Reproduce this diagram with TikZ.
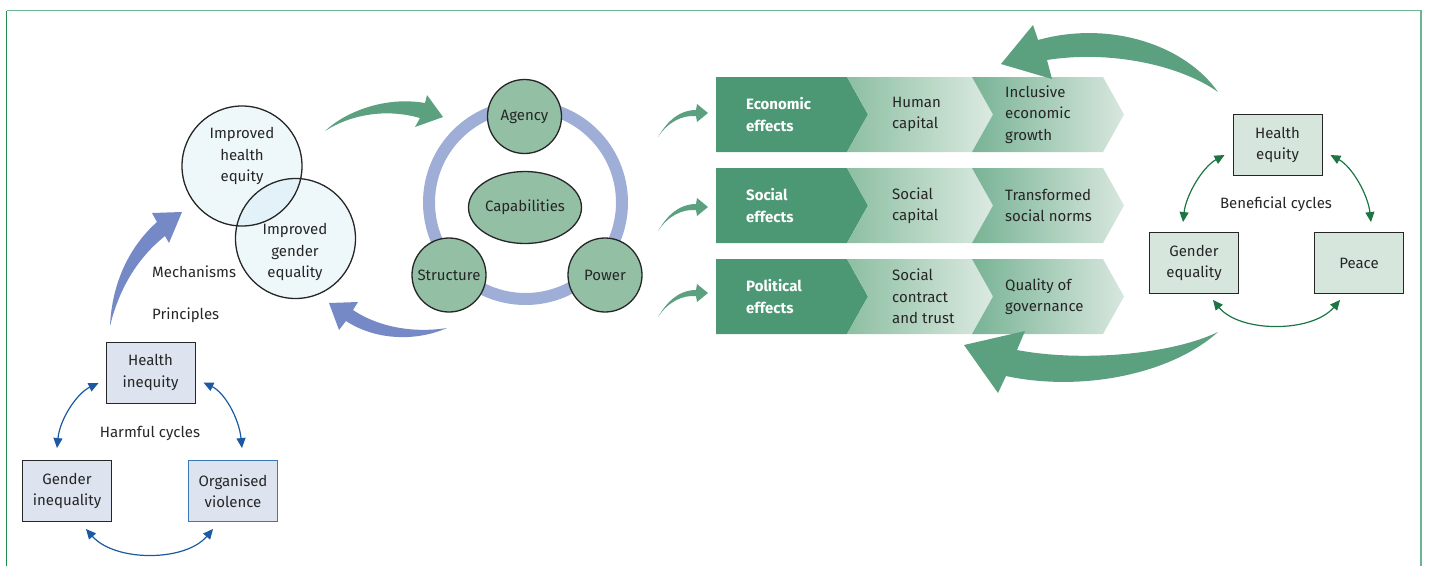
\documentclass[tikz,border=0pt]{standalone}
\usepackage{fontspec}
\setmainfont{Fira Sans}
\usetikzlibrary{arrows.meta,shapes.geometric,calc}
\definecolor{frameL}{HTML}{1F8A4C}
\definecolor{frameT}{HTML}{6DB592}
\definecolor{txt}{HTML}{262626}
\definecolor{bluebox}{HTML}{DDE3EF}
\definecolor{blueline}{HTML}{1B5AA3}
\definecolor{blueborder}{HTML}{3A78B8}
\definecolor{bigblue}{HTML}{7489C6}
\definecolor{ringcol}{HTML}{9EAED6}
\definecolor{gcircfill}{HTML}{93BFA5}
\definecolor{impfill}{HTML}{EEF8FB}
\definecolor{impover}{HTML}{E2F2F8}
\definecolor{darkchev}{HTML}{4C9874}
\definecolor{biggreen}{HTML}{5BA07F}
\definecolor{benline}{HTML}{1C7543}
\definecolor{greenbox}{HTML}{D6E6DD}
\definecolor{chevAleft}{HTML}{8DBFA2}
\definecolor{chevAright}{HTML}{DCEAE2}
\definecolor{chevBleft}{HTML}{78B395}
\definecolor{chevBright}{HTML}{D8E7DE}
\tikzset{
  every node/.style={font=\fontsize{15}{21.5}\selectfont, text=txt, align=center},
  harmbox/.style={rectangle, draw=txt, line width=0.9pt, fill=bluebox, minimum width=89pt, minimum height=61pt, inner sep=0pt},
  benbox/.style={rectangle, draw=txt, line width=0.9pt, fill=greenbox, minimum width=89pt, minimum height=61pt, inner sep=0pt},
  harmarrow/.style={draw=blueline, line width=1.2pt, {Triangle[length=10pt,width=9pt]}-{Triangle[length=10pt,width=9pt]}},
  benarrow/.style={draw=benline, line width=1.2pt, {Triangle[length=10pt,width=9pt]}-{Triangle[length=10pt,width=9pt]}},
  gcirc/.style={circle, draw=txt, line width=1.3pt, fill=gcircfill, minimum size=74pt, inner sep=0pt},
  impcirc/.style={circle, fill=impfill, minimum size=120pt, inner sep=0pt},
  chevtxt/.style={anchor=west, align=left, inner sep=0pt},
  chevbold/.style={chevtxt, text=white, font=\fontsize{15}{21.5}\selectfont\bfseries},
}
\begin{document}
\begin{tikzpicture}[x=1pt, y=-1pt]
\useasboundingbox (0,0) rectangle (1429,566);
% frame
\draw[frameL, line width=1.6pt] (6.5,566) -- (6.5,10.5);
\draw[frameT, line width=1.6pt] (6.5,10.5) -- (1421,10.5) -- (1421,566);

% ---------- harmful cycles ----------
\node[harmbox] (hi) at (150.5,372.5) {Health\\inequity};
\node[harmbox] (gi) at (67,491) {Gender\\inequality};
\node[harmbox, draw=blueborder] (ov) at (233,491) {Organised\\violence};
\node (harm) at (150,433) {Harmful cycles};
\draw[harmarrow] ($(gi.north)+(-10,-12)$) .. controls +(3,-30) and +(-21,10) .. ($(hi.west)+(-7,10.5)$);
\draw[harmarrow] ($(hi.east)+(8,10)$) .. controls +(21,10) and +(-3,-30) .. ($(ov.north)+(9,-12)$);
\draw[harmarrow] ($(gi.south east)+(-26,7)$) .. controls +(29,33) and +(-28,33) .. ($(ov.south west)+(25,7)$);

% ---------- big blue arrows ----------
\fill[bigblue] (110,326) .. controls (112,282) and (130,246) .. (157,222) -- (152,213) -- (182,212) -- (169,243) -- (165,236) .. controls (140,256) and (120,285) .. (110,326) -- cycle;
\fill[bigblue] (447,328) .. controls (415,333) and (380,328) .. (353,310) -- (358,302) -- (329,303) -- (339,330) -- (346,321) .. controls (375,340) and (415,342) .. (447,328) -- cycle;

\node[anchor=west, inner sep=0pt] (mech) at (152,272) {Mechanisms};
\node[anchor=west, inner sep=0pt] (princ) at (152,315) {Principles};

% ---------- improved circles ----------
\node[impcirc] (ihe) at (242,166) {};
\node[impcirc] (ige) at (295.5,238.5) {};
\begin{scope}
  \clip (ihe.center) circle (60pt);
  \fill[impover] (ige.center) circle (60pt);
\end{scope}
\draw[txt, line width=1.3pt] (ihe.center) circle (60pt);
\draw[txt, line width=1.3pt] (ige.center) circle (60pt);
\node (ihetxt) at (242,156) {Improved\\health\\equity};
\node (igetxt) at (295,252) {Improved\\gender\\equality};

% green arrow to triad
\fill[biggreen] (325,131) .. controls (345,112) and (385,96) .. (425,103) -- (427,95) -- (443,117) -- (415,127) -- (420,118) .. controls (385,108) and (350,115) .. (325,131) -- cycle;

% ---------- triad ----------
\draw[ringcol, line width=12pt] (525.5,202.5) circle (96.5pt);
\node[gcirc] (agency) at (524.5,116.5) {Agency};
\node[gcirc] (structure) at (449,275) {Structure};
\node[gcirc] (power) at (605,275) {Power};
\node[ellipse, draw=txt, line width=1.3pt, fill=gcircfill, minimum width=104pt, minimum height=72pt, inner sep=0pt] (cap) at (525,207.5) {Capabilities};

% ---------- small green arrows ----------
\foreach \dy in {0,94,180}{
  \fill[biggreen, yshift=-\dy pt] (658,137) .. controls (668,120) and (680,110) .. (696,110) -- (697,104) -- (708,113) -- (697,122) -- (696,116) .. controls (682,115) and (668,122) .. (658,137) -- cycle;
}

% ---------- chevron rows ----------
\foreach \T/\A/\B/\C [count=\i] in {77/{Economic\\effects}/{Human\\capital}/{Inclusive\\economic\\growth},
                         168/{Social\\effects}/{Social\\capital}/{Transformed\\social norms},
                         259/{Political\\effects}/{Social\\contract\\and trust}/{Quality of\\governance}}{
  \pgfmathsetmacro{\M}{\T+37.5}
  \pgfmathsetmacro{\Bo}{\T+75}
  \fill[darkchev] (716,\T) -- (847,\T) -- (868,\M) -- (847,\Bo) -- (716,\Bo) -- cycle;
  \path[left color=chevAleft, right color=chevAright] (847,\T) -- (972,\T) -- (993,\M) -- (972,\Bo) -- (847,\Bo) -- (868,\M) -- cycle;
  \path[left color=chevBleft, right color=chevBright] (972,\T) -- (1103,\T) -- (1124,\M) -- (1103,\Bo) -- (972,\Bo) -- (993,\M) -- cycle;
  \node[chevbold] (eff\i) at (746,\M) {\A};
  \node[chevtxt] (mid\i) at (892,\M) {\B};
  \node[chevtxt] (out\i) at (1005,\M) {\C};
}

% ---------- big green arrows right ----------
\fill[biggreen] (1218,92) .. controls (1185,45) and (1110,20) .. (1038,40) -- (1033,25) -- (1001,64) -- (1052,79) -- (1047,60) .. controls (1110,50) and (1180,65) .. (1218,92) -- cycle;
\fill[biggreen] (1218,332) .. controls (1170,355) and (1080,362) .. (1017,350) -- (1025,331) -- (964,345) -- (998,393) -- (1006,376) .. controls (1080,392) and (1170,375) .. (1218,332) -- cycle;

% ---------- beneficial cycles ----------
\node[benbox] (he) at (1277.5,145) {Health\\equity};
\node[benbox] (ge) at (1194,263) {Gender\\equality};
\node[benbox] (pe) at (1359,263) {Peace};
\node (ben) at (1276,204) {Beneficial cycles};
\draw[benarrow] ($(ge.north)+(-11,-10)$) .. controls +(3,-27) and +(-22,12) .. ($(he.west)+(-8,10)$);
\draw[benarrow] ($(he.east)+(8,10)$) .. controls +(22,12) and +(-3,-27) .. ($(pe.north)+(12,-10)$);
\draw[benarrow] ($(ge.south east)+(-26,6)$) .. controls +(27,33) and +(-28,33) .. ($(pe.south west)+(26,6)$);
\end{tikzpicture}
\end{document}
